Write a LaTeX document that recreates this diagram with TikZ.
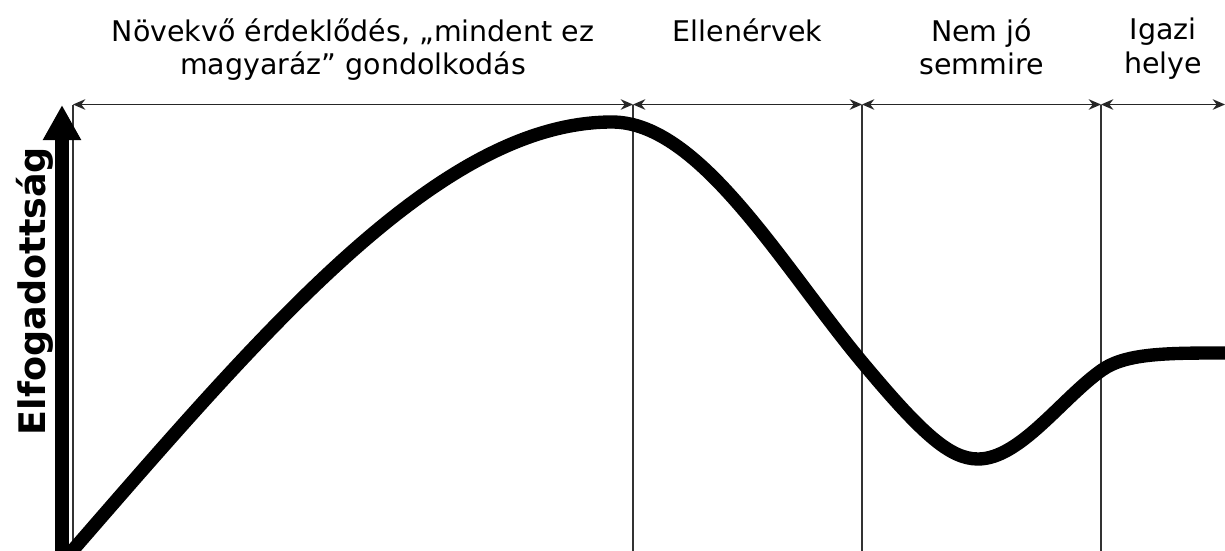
\documentclass[tikz,border=0pt]{standalone}
\usepackage{fontspec}
\setmainfont{DejaVu Sans}
\usetikzlibrary{arrows.meta}
\tikzset{
  sepline/.style={line width=1pt, black!80},
  span/.style={line width=1pt, black!85, {Stealth[length=7pt,width=6pt]}-{Stealth[length=7pt,width=6pt]}},
  phase/.style={anchor=north, align=center, inner sep=0pt, font=\fontsize{16.2}{19}\selectfont},
  axis/.style={line width=7.4pt, -{Triangle[length=20pt,width=20.5pt]}},
  ylab/.style={rotate=90, inner sep=0pt, font=\bfseries\fontsize{20.8}{24}\selectfont},
  curve/.style={line width=7.6pt, line join=round},
}
\begin{document}
\begin{tikzpicture}[x=0.02cm,y=-0.02cm]
\useasboundingbox (0,0) rectangle (1225,551);
% phase boundaries
\coordinate (base) at (0,551);
\coordinate (b0) at (73,104.5);
\coordinate (b1) at (633,104.5);
\coordinate (b2) at (862,104.5);
\coordinate (b3) at (1101,104.5);
\coordinate (b4) at (1225,104.5);
\foreach \i in {0,...,3} \draw[sepline] (b\i) -- (b\i |- base);
\foreach \i/\j in {0/1,1/2,2/3,3/4} \draw[span] (b\i) -- (b\j);
% labels
\node[phase] (grow) at (353,18) {Növekvő érdeklődés, „mindent ez\\magyaráz” gondolkodás};
\node[phase] (contra) at (747.5,18) {Ellenérvek};
\node[phase] (useless) at (981.5,18) {Nem jó\\semmire};
\node[phase] (place) at (1163,18) {Igazi\\helye};
% axis
\coordinate (ax0) at (62,551);
\coordinate (ax1) at (62,105);
\draw[axis] (ax0) -- (ax1);
\node[ylab] (acc) at (35,291) {Elfogadottság};
% hype curve
\coordinate (p0) at (66,558);
\coordinate (p1) at (612,122);
\coordinate (p2) at (862,362);
\coordinate (p3) at (978,459);
\coordinate (p4) at (1102,370);
\coordinate (p5) at (1232,353);
\draw[curve] (p0) .. controls (266,328) and (440,122) .. (p1)
  .. controls (700,122) and (782,266) .. (p2)
  .. controls (922,434) and (950,459) .. (p3)
  .. controls (1020,459) and (1062,398) .. (p4)
  .. controls (1127,352.5) and (1170,353) .. (p5);
\end{tikzpicture}
\end{document}
